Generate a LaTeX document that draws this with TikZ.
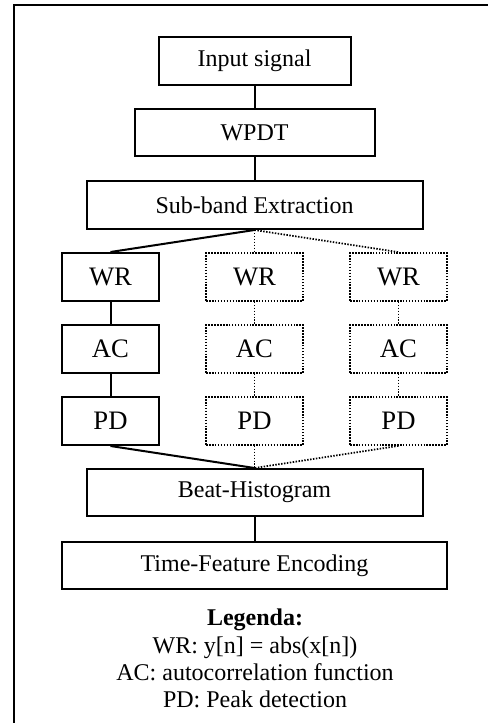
\documentclass[tikz,border=0pt]{standalone}
\usepackage{fontspec}
\setmainfont{Liberation Serif}
\begin{document}
\begin{tikzpicture}[x=0.75pt,y=-0.75pt,
  box/.style={draw, line width=1.5pt, inner sep=0pt, font=\fontsize{18}{20}\selectfont, minimum height=36pt},
  sbox/.style={box, minimum width=72.5pt, minimum height=36pt, font=\fontsize{20}{22}\selectfont},
  dbox/.style={sbox, line width=1.3pt, dash pattern=on 1.1pt off 1.1pt},
  conn/.style={line width=1.5pt},
  dconn/.style={line width=1.3pt, dash pattern=on 1.1pt off 1.1pt},
  leg/.style={anchor=base, inner sep=0pt, font=\fontsize{18}{20}\selectfont}]
\useasboundingbox (0,0) rectangle (487,723);
\draw[line width=1.5pt] (14,723) -- (14,5) -- (488,5);

\node[box, minimum width=144pt] (inp) at (254.5,61) {Input signal};
\node[box, minimum width=180pt, minimum height=35.25pt] (wpdt) at (254.5,133) {WPDT};
\node[box, minimum width=252pt] (sub) at (254.5,205) {Sub-band Extraction};

\node[sbox] (wr1) at (110.5,277) {WR};
\node[dbox] (wr2) at (254.5,277) {WR};
\node[dbox] (wr3) at (398.5,277) {WR};
\node[sbox] (ac1) at (110.5,349) {AC};
\node[dbox] (ac2) at (254.5,349) {AC};
\node[dbox] (ac3) at (398.5,349) {AC};
\node[sbox] (pd1) at (110.5,421) {PD};
\node[dbox] (pd2) at (254.5,421) {PD};
\node[dbox] (pd3) at (398.5,421) {PD};

\node[box, minimum width=252pt, minimum height=35.25pt] (beat) at (254.5,492.5) {Beat-Histogram};
\node[box, minimum width=288.75pt, minimum height=35.25pt] (tfe) at (254.5,565.5) {Time-Feature Encoding};

\draw[conn] (inp.south) -- (wpdt.north);
\draw[conn] (wpdt.south) -- (sub.north);
\draw[conn] (sub.south) -- (wr1.north);
\draw[dconn] (sub.south) -- (wr2.north);
\draw[dconn] (sub.south) -- (wr3.north);
\draw[conn] (wr1.south) -- (ac1.north);
\draw[dconn] (wr2.south) -- (ac2.north);
\draw[dconn] (wr3.south) -- (ac3.north);
\draw[conn] (ac1.south) -- (pd1.north);
\draw[dconn] (ac2.south) -- (pd2.north);
\draw[dconn] (ac3.south) -- (pd3.north);
\draw[conn] (pd1.south) -- (beat.north);
\draw[dconn] (pd2.south) -- (beat.north);
\draw[dconn] (pd3.south) -- (beat.north);
\draw[conn] (beat.south) -- (tfe.north);

\node[leg] (leg0) at (255,625.5) {\textbf{Legenda:}};
\node[leg] (leg1) at (255,653) {WR: y[n] = abs(x[n])};
\node[leg] (leg2) at (255,680.5) {AC: autocorrelation function};
\node[leg] (leg3) at (255,707.5) {PD: Peak detection};
\end{tikzpicture}
\end{document}
